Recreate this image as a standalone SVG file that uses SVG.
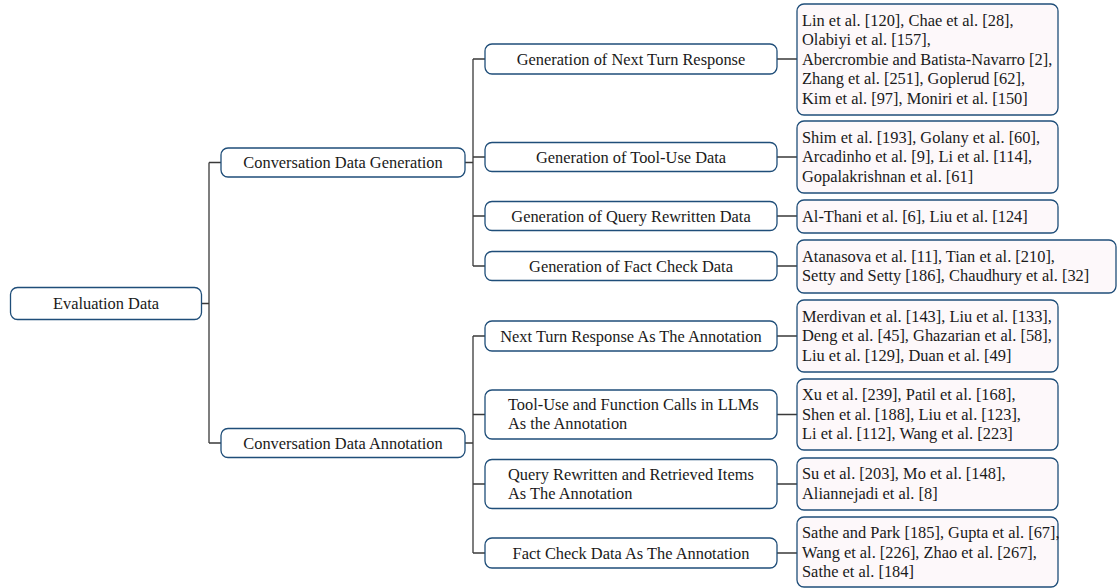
<svg xmlns="http://www.w3.org/2000/svg" width="1117" height="588" viewBox="0 0 1117 588" font-family="'Liberation Serif', 'DejaVu Serif', serif" font-size="16.4">
<style>
.box{fill:#ffffff;stroke:#1f4e79;stroke-width:1.3}
.leaf{fill:#fdf8fa;stroke:#1f4e79;stroke-width:1.3}
.c{fill:none;stroke:#3a3a3a;stroke-width:1.3}
text{fill:#1a1a1a}
.m{text-anchor:middle}
</style>
<rect width="1117" height="588" fill="#ffffff"/>
<g id="connectors">
<path class="c" d="M202 303.5H209M209 162.5V443M209 162.5H221M209 443H221"/>
<path class="c" d="M465 162.5H473M473 59V266M473 59H485M473 157H485M473 216H485M473 266H485"/>
<path class="c" d="M465 443H473M473 336V553M473 336H485M473 414.5H485M473 484H485M473 553H485"/>
<path class="c" d="M777 59H797M777 157H797M777 216H797M777 266H797M777 336H797M777 414.5H797M777 484H797M777 553H797"/>
</g>
<g id="root"><rect class="box" x="10.5" y="287.5" width="191" height="32" rx="7"/><text class="m" x="106" y="309">Evaluation Data</text></g>
<g id="gen"><rect class="box" x="221" y="148" width="244" height="29" rx="7"/><text class="m" x="343" y="168">Conversation Data Generation</text></g>
<g id="ann"><rect class="box" x="221" y="428.5" width="244" height="29" rx="7"/><text class="m" x="343" y="448.5">Conversation Data Annotation</text></g>
<g id="g1"><rect class="box" x="485" y="44" width="292" height="30" rx="7"/><text class="m" x="631" y="64.5">Generation of Next Turn Response</text></g>
<g id="g2"><rect class="box" x="485" y="142.5" width="292" height="29" rx="7"/><text class="m" x="631" y="162.5">Generation of Tool-Use Data</text></g>
<g id="g3"><rect class="box" x="485" y="201.5" width="292" height="29" rx="7"/><text class="m" x="631" y="221.5">Generation of Query Rewritten Data</text></g>
<g id="g4"><rect class="box" x="485" y="251.5" width="292" height="29" rx="7"/><text class="m" x="631" y="271.5">Generation of Fact Check Data</text></g>
<g id="a1"><rect class="box" x="485" y="321" width="292" height="30" rx="7"/><text class="m" x="631" y="341.5">Next Turn Response As The Annotation</text></g>
<g id="a2"><rect class="box" x="485" y="390" width="292" height="49" rx="7"/><text x="508" y="409.5">Tool-Use and Function Calls in LLMs</text><text x="508" y="428.5">As the Annotation</text></g>
<g id="a3"><rect class="box" x="485" y="459.5" width="292" height="49" rx="7"/><text x="508" y="479.5">Query Rewritten and Retrieved Items</text><text x="508" y="498.5">As The Annotation</text></g>
<g id="a4"><rect class="box" x="485" y="538" width="292" height="30" rx="7"/><text class="m" x="631" y="558.5">Fact Check Data As The Annotation</text></g>
<g id="l1"><rect class="leaf" x="797" y="4" width="261" height="111" rx="7"/>
<text x="802" y="25.5">Lin et al. [120], Chae et al. [28],</text>
<text x="802" y="45">Olabiyi et al. [157],</text>
<text x="802" y="64.5">Abercrombie and Batista-Navarro [2],</text>
<text x="802" y="84">Zhang et al. [251], Goplerud [62],</text>
<text x="802" y="103.5">Kim et al. [97], Moniri et al. [150]</text></g>
<g id="l2"><rect class="leaf" x="797" y="121" width="261" height="72" rx="7"/>
<text x="802" y="142.5">Shim et al. [193], Golany et al. [60],</text>
<text x="802" y="162">Arcadinho et al. [9], Li et al. [114],</text>
<text x="802" y="181.5">Gopalakrishnan et al. [61]</text></g>
<g id="l3"><rect class="leaf" x="797" y="200" width="261" height="33" rx="7"/>
<text x="802" y="221.5">Al-Thani et al. [6], Liu et al. [124]</text></g>
<g id="l4"><rect class="leaf" x="797" y="240" width="319" height="53" rx="7"/>
<text x="802" y="261.5">Atanasova et al. [11], Tian et al. [210],</text>
<text x="802" y="281">Setty and Setty [186], Chaudhury et al. [32]</text></g>
<g id="l5"><rect class="leaf" x="797" y="300" width="261" height="72" rx="7"/>
<text x="802" y="321.5">Merdivan et al. [143], Liu et al. [133],</text>
<text x="802" y="341">Deng et al. [45], Ghazarian et al. [58],</text>
<text x="802" y="360.5">Liu et al. [129], Duan et al. [49]</text></g>
<g id="l6"><rect class="leaf" x="797" y="379" width="261" height="71" rx="7"/>
<text x="802" y="400">Xu et al. [239], Patil et al. [168],</text>
<text x="802" y="419.5">Shen et al. [188], Liu et al. [123],</text>
<text x="802" y="439">Li et al. [112], Wang et al. [223]</text></g>
<g id="l7"><rect class="leaf" x="797" y="458" width="261" height="52" rx="7"/>
<text x="802" y="479">Su et al. [203], Mo et al. [148],</text>
<text x="802" y="498.5">Aliannejadi et al. [8]</text></g>
<g id="l8"><rect class="leaf" x="797" y="517" width="261" height="70" rx="7"/>
<text x="802" y="538">Sathe and Park [185], Gupta et al. [67],</text>
<text x="802" y="557.5">Wang et al. [226], Zhao et al. [267],</text>
<text x="802" y="577">Sathe et al. [184]</text></g>
</svg>
